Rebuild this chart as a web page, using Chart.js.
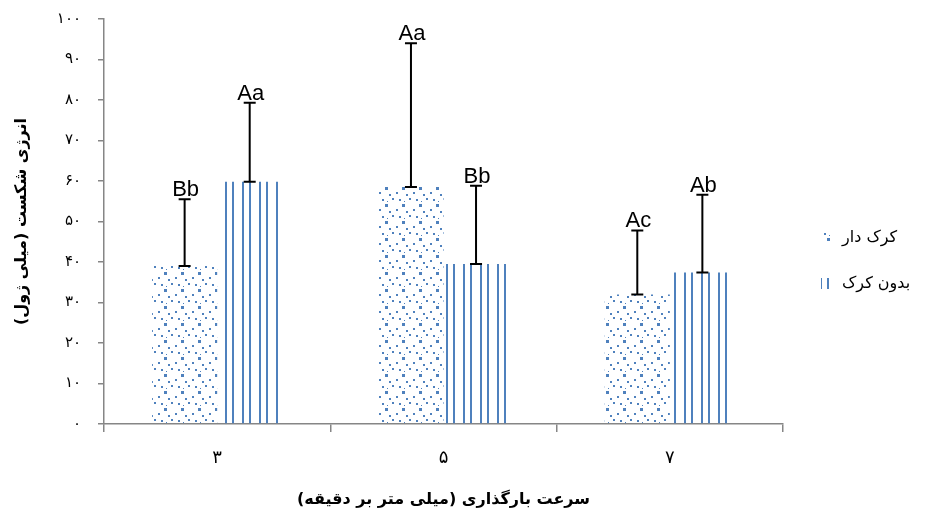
<!DOCTYPE html>
<html>
<head>
<meta charset="utf-8">
<script src="https://cdn.jsdelivr.net/npm/chart.js@4.4.1/dist/chart.umd.min.js"></script>
<style>
  html, body { margin: 0; padding: 0; background: #fff; }
  #wrap { width: 929px; height: 515px; position: relative; }
  canvas { direction: rtl; }
</style>
</head>
<body>
<div id="wrap"><canvas id="fractureChart"></canvas></div>
<script>
// loading speed (mm/min) categories
const speedLabels = ['۳', '۵', '۷'];
// fracture energy means (mJ)
const hairyMeans = [39, 58.5, 32];
const hairlessMeans = [59.8, 39.5, 37.4];
// error bar sizes
const hairyErr = [16.5, 35.5, 15.8];
const hairlessErr = [19.5, 19.3, 19.2];
// significance letters
const hairyLetters = ['Bb', 'Aa', 'Ac'];
const hairlessLetters = ['Aa', 'Bb', 'Ab'];
const seriesNames = ['کرک دار', 'بدون کرک'];

const BLUE = '#4f81bd';
const AXIS = '#868686';

function toFa(v) {
  const fa = ['۰', '۱', '۲', '۳', '۴', '۵', '۶', '۷', '۸', '۹'];
  return String(v).replace(/[0-9]/g, d => fa[+d]);
}

// dotted fill pattern
function dotPattern() {
  const c = document.createElement('canvas');
  c.width = 17; c.height = 17;
  const g = c.getContext('2d');
  g.fillStyle = BLUE;
  [[11, 0, 3], [5, 5, 2], [15, 7, 2], [1, 11, 2], [8, 12, 2], [13, 14, 1]]
    .forEach(d => g.fillRect(d[0], d[1], d[2], d[2]));
  return g.createPattern(c, 'repeat');
}
// vertical lines pattern
function linePattern() {
  const c = document.createElement('canvas');
  c.width = 17; c.height = 17;
  const g = c.getContext('2d');
  g.fillStyle = BLUE;
  g.fillRect(4, 0, 2, 17);
  g.fillRect(11, 0, 2, 17);
  return g.createPattern(c, 'repeat');
}

const letters = [hairyLetters, hairlessLetters];
const errs = [hairyErr, hairlessErr];

// error bars + letters
const errorBarPlugin = {
  id: 'errorBars',
  afterDatasetsDraw(chart) {
    const ctx = chart.ctx;
    const y = chart.scales.y;
    ctx.save();
    chart.data.datasets.forEach((ds, i) => {
      const meta = chart.getDatasetMeta(i);
      meta.data.forEach((bar, j) => {
        const v = ds.data[j];
        const y0 = y.getPixelForValue(v);
        const y1 = y.getPixelForValue(v + errs[i][j]);
        ctx.strokeStyle = '#000';
        ctx.lineWidth = 2;
        ctx.beginPath();
        ctx.moveTo(bar.x, y0); ctx.lineTo(bar.x, y1);
        ctx.moveTo(bar.x - 6, y0); ctx.lineTo(bar.x + 6, y0);
        ctx.moveTo(bar.x - 6, y1); ctx.lineTo(bar.x + 6, y1);
        ctx.stroke();
        ctx.fillStyle = '#000';
        ctx.font = '22px "Liberation Sans", Arial, sans-serif';
        ctx.textAlign = 'center';
        ctx.textBaseline = 'alphabetic';
        ctx.fillText(letters[i][j], bar.x + 1, y1 - 3);
      });
    });
    ctx.restore();
  }
};

// legend on the right
const sideLegend = {
  id: 'sideLegend',
  afterDraw(chart) {
    const ctx = chart.ctx;
    ctx.save();
    chart.data.datasets.forEach((ds, i) => {
      const cy = 238 + i * 46;
      ctx.fillStyle = ds.backgroundColor;
      ctx.fillRect(821, cy - 6, 12, 11);
      ctx.fillStyle = '#000';
      ctx.font = '16px "DejaVu Sans", sans-serif';
      ctx.textAlign = 'left';
      ctx.textBaseline = 'middle';
      ctx.fillText(ds.label, 842, cy);
    });
    ctx.restore();
  }
};

new Chart(document.getElementById('fractureChart'), {
  type: 'bar',
  data: {
    labels: speedLabels,
    datasets: [
      { label: seriesNames[0], data: hairyMeans, backgroundColor: dotPattern(), borderWidth: 0 },
      { label: seriesNames[1], data: hairlessMeans, backgroundColor: linePattern(), borderWidth: 0 }
    ]
  },
  options: {
    responsive: true,
    maintainAspectRatio: false,
    animation: false,
    events: [],
    layout: { padding: { top: 19, right: 146, left: 0, bottom: 0 } },
    datasets: { bar: { barPercentage: 1, categoryPercentage: 0.575 } },
    plugins: { legend: { display: false }, tooltip: { enabled: false } },
    scales: {
      x: {
        grid: { offset: true, drawOnChartArea: false, tickLength: 8, color: AXIS, lineWidth: 1.5 },
        border: { color: AXIS, width: 1.5 },
        ticks: { color: '#000', font: { size: 18, family: '"DejaVu Sans", sans-serif' }, padding: 16 },
        title: {
          display: true,
          text: 'سرعت بارگذاری (میلی متر بر دقیقه)',
          color: '#000',
          font: { size: 16, weight: 'bold', family: '"DejaVu Sans", sans-serif' },
          padding: { top: 0, bottom: 6 }
        },
        afterFit: s => { s.height = 91; s.paddingLeft = 0; s.paddingRight = 0; }
      },
      y: {
        min: 0,
        max: 100,
        grid: { drawOnChartArea: false, tickLength: 6, color: AXIS, lineWidth: 1.5 },
        border: { color: AXIS, width: 1.5 },
        ticks: {
          stepSize: 10,
          color: '#000',
          padding: 17,
          font: { size: 15, family: '"DejaVu Sans", sans-serif' },
          callback: v => toFa(v)
        },
        title: {
          display: true,
          text: 'انرژی شکست (میلی ژول)',
          color: '#000',
          font: { size: 16, weight: 'bold', family: '"DejaVu Sans", sans-serif' },
          padding: { top: 12, bottom: 0 }
        },
        afterFit: s => { s.width = 104; s.paddingTop = 0; s.paddingBottom = 0; }
      }
    }
  },
  plugins: [errorBarPlugin, sideLegend]
});
</script>
</body>
</html>
